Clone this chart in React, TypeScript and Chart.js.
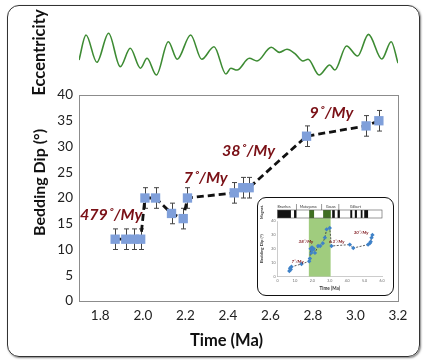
import React, { useEffect, useRef } from "react";
import { Chart, registerables } from "chart.js";
Chart.register(...registerables);

const FONT = "Lato, 'Open Sans', 'Liberation Sans', sans-serif";

// ---- Main panel data ----
const timeMa = [1.87, 1.92, 1.96, 1.99, 2.01, 2.06, 2.135, 2.19, 2.21, 2.43, 2.47, 2.5, 2.77, 3.05, 3.11];
const beddingDip = [12, 12, 12, 12, 20, 20, 17, 16, 20, 21, 22, 22, 32, 34, 35];
const dipError = [2, 2, 2, 2, 2, 2, 2, 2, 2, 2, 2, 2, 2, 2, 2];
const xTicks = [1.8, 2.0, 2.2, 2.4, 2.6, 2.8, 3.0, 3.2];
const yTicks = [0, 5, 10, 15, 20, 25, 30, 35, 40];

const rateText = ["479˚/My", "7˚/My", "38˚/My", "9˚/My"];
const rateTime = [1.851, 2.296, 2.497, 2.887];
const rateDip = [16.7, 23.9, 29.1, 36.6];

// ---- Eccentricity curve ----
const eccTime = [1.7, 1.733, 1.784, 1.839, 1.894, 1.941, 1.989, 2.02, 2.064, 2.12, 2.162, 2.225, 2.277, 2.335, 2.391, 2.414, 2.443, 2.501, 2.537, 2.604, 2.643, 2.678, 2.714, 2.753, 2.777, 2.829, 2.879, 2.903, 2.958, 3.01, 3.061, 3.124, 3.168, 3.2];
const eccValue = [0.0247, 0.0424, 0.0231, 0.0436, 0.02, 0.033, 0.0189, 0.0259, 0.0141, 0.0376, 0.0252, 0.0424, 0.0252, 0.0341, 0.0148, 0.0189, 0.0176, 0.0259, 0.024, 0.0337, 0.0301, 0.0323, 0.0294, 0.024, 0.0252, 0.0141, 0.0212, 0.0176, 0.0346, 0.0275, 0.0428, 0.0254, 0.0376, 0.0225];

// ---- Inset data ----
const insetTime = [0.68, 0.72, 0.76, 0.8, 1.38, 1.82, 1.86, 1.9, 1.94, 1.98, 2.02, 2.08, 2.15, 2.33, 2.45, 2.6, 2.72, 2.82, 3.0, 3.1, 4.15, 4.35, 5.2, 5.3, 5.35, 5.4, 5.45];
const insetDip = [4, 6, 5, 7, 9, 11, 13, 20, 17, 21, 19, 20, 17, 22, 22, 24, 28, 34, 35, 22, 23, 20.5, 23, 24, 25, 28, 30];
const insetXTicks = [0, 1, 2, 3, 4, 5, 6];
const insetYTicks = [0, 5, 10, 15, 20, 25, 30, 35, 40];
const insetRateText = ["7˚/My", "38˚/My", "6.3˚/My", "30˚/My"];
const insetRateTime = [1.15, 1.63, 3.4, 4.8];
const insetRateDip = [10.5, 25.4, 25.4, 31.4];
const greenBand = [1.8, 3.05];
const polarityStart = [0, 0.95, 1.82, 2.62, 3.14, 3.45, 4.18, 4.44, 4.78, 4.98];
const polarityEnd = [0.77, 1.09, 2.1, 3.06, 3.29, 3.58, 4.29, 4.56, 4.88, 5.2];
const polarityGreen = [false, false, true, true, false, false, false, false, false, false];
const chronNames = ["Brunhes", "Matuyama", "Gauss", "Gilbert"];
const chronCenter = [0.38, 1.76, 3.06, 4.48];
const chronBounds = [1.09, 2.53, 3.52];

const frameBox = {
  id: "frameBox",
  beforeDraw(chart: any) {
    const { ctx, chartArea: a } = chart;
    ctx.save();
    ctx.strokeStyle = "#8c8c8c";
    ctx.lineWidth = 1;
    ctx.strokeRect(Math.round(a.left) + 0.5, Math.round(a.top) + 0.5, Math.round(a.right - a.left), Math.round(a.bottom - a.top));
    ctx.restore();
  },
};

const errorBars = {
  id: "errorBars",
  beforeDatasetsDraw(chart: any) {
    const { ctx, scales } = chart;
    const x = scales.x, y = scales.y;
    ctx.save();
    ctx.strokeStyle = "#444";
    ctx.lineWidth = 1;
    timeMa.forEach((t, i) => {
      const px = Math.round(x.getPixelForValue(t)) + 0.5;
      const top = y.getPixelForValue(beddingDip[i] + dipError[i]);
      const bot = y.getPixelForValue(beddingDip[i] - dipError[i]);
      ctx.beginPath();
      ctx.moveTo(px, top);
      ctx.lineTo(px, bot);
      ctx.moveTo(px - 2.5, top);
      ctx.lineTo(px + 2.5, top);
      ctx.moveTo(px - 2.5, bot);
      ctx.lineTo(px + 2.5, bot);
      ctx.stroke();
    });
    ctx.restore();
  },
};

const rateLabels = {
  id: "rateLabels",
  afterDatasetsDraw(chart: any) {
    const { ctx, scales } = chart;
    ctx.save();
    ctx.fillStyle = "#7a1016";
    ctx.font = `italic bold 16px ${FONT}`;
    ctx.textAlign = "center";
    ctx.textBaseline = "middle";
    rateText.forEach((s, i) => {
      ctx.fillText(s, scales.x.getPixelForValue(rateTime[i]), scales.y.getPixelForValue(rateDip[i]));
    });
    ctx.restore();
  },
};

const insetDecor = {
  id: "insetDecor",
  beforeDatasetsDraw(chart: any) {
    const { ctx, chartArea: a, scales } = chart;
    const x = scales.x;
    const barTop = a.top - 11;
    const barBot = a.top - 3;
    ctx.save();
    ctx.fillStyle = "rgba(150,198,112,0.9)";
    const g0 = x.getPixelForValue(greenBand[0]);
    const g1 = x.getPixelForValue(greenBand[1]);
    ctx.fillRect(g0, barBot, g1 - g0, a.bottom - barBot);
    ctx.fillStyle = "#fff";
    ctx.fillRect(a.left, barTop, a.right - a.left, barBot - barTop);
    polarityStart.forEach((s, i) => {
      const p0 = x.getPixelForValue(s);
      const p1 = x.getPixelForValue(polarityEnd[i]);
      ctx.fillStyle = polarityGreen[i] ? "#3f6e22" : "#111";
      ctx.fillRect(p0, barTop, p1 - p0, barBot - barTop);
    });
    ctx.strokeStyle = "#555";
    ctx.lineWidth = 0.6;
    ctx.strokeRect(a.left, barTop, a.right - a.left, barBot - barTop);
    ctx.beginPath();
    chronBounds.forEach((b) => {
      const p = x.getPixelForValue(b);
      ctx.moveTo(p, barTop - 6);
      ctx.lineTo(p, barTop);
    });
    ctx.stroke();
    ctx.fillStyle = "#333";
    ctx.font = `3.6px ${FONT}`;
    ctx.textAlign = "center";
    ctx.textBaseline = "bottom";
    chronNames.forEach((n, i) => {
      ctx.fillText(n, x.getPixelForValue(chronCenter[i]), barTop - 1);
    });
    ctx.translate(a.left - 15.5, (barTop + barBot) / 2 - 2);
    ctx.rotate(-Math.PI / 2);
    ctx.font = `bold 3.8px ${FONT}`;
    ctx.textBaseline = "middle";
    ctx.fillText("Magnet.", 0, 0);
    ctx.restore();
  },
  afterDatasetsDraw(chart: any) {
    const { ctx, scales } = chart;
    ctx.save();
    ctx.fillStyle = "#7a1016";
    ctx.font = `italic bold 4.4px ${FONT}`;
    ctx.textAlign = "center";
    ctx.textBaseline = "middle";
    insetRateText.forEach((s, i) => {
      ctx.fillText(s, scales.x.getPixelForValue(insetRateTime[i]), scales.y.getPixelForValue(insetRateDip[i]));
    });
    ctx.restore();
  },
};

export default function App() {
  const mainRef = useRef<HTMLCanvasElement>(null);
  const eccRef = useRef<HTMLCanvasElement>(null);
  const insetRef = useRef<HTMLCanvasElement>(null);

  useEffect(() => {
    const main = new Chart(mainRef.current as HTMLCanvasElement, {
      type: "scatter",
      data: {
        datasets: [
          {
            data: timeMa.map((t, i) => ({ x: t, y: beddingDip[i] })),
            showLine: true,
            borderColor: "#111",
            borderWidth: 2.8,
            borderDash: [7, 4],
            pointStyle: "rect",
            pointRadius: 6.6,
            pointBackgroundColor: "#7f9fda",
            pointBorderColor: "#7f9fda",
            pointBorderWidth: 0,
          } as any,
        ],
      },
      options: {
        animation: false,
        responsive: false,
        layout: { padding: { left: 30, right: 29, top: 95, bottom: 10 } },
        plugins: { legend: { display: false }, tooltip: { enabled: false } },
        scales: {
          x: {
            type: "linear",
            min: 1.7,
            max: 3.2,
            afterBuildTicks: (s: any) => {
              s.ticks = xTicks.map((v) => ({ value: v }));
            },
            afterFit: (s: any) => {
              s.height = 50;
            },
            ticks: {
              autoSkip: false,
              maxRotation: 0,
              callback: (v: any) => Number(v).toFixed(1),
              font: { family: FONT, size: 13.5 },
              color: "#222",
              padding: 7,
            },
            grid: { display: false, drawTicks: false },
            border: { display: false },
            title: { display: true, text: "Time (Ma)      ", font: { family: FONT, size: 16.5, weight: "bold" }, color: "#111", padding: 0 },
          },
          y: {
            min: 0,
            max: 40,
            afterBuildTicks: (s: any) => {
              s.ticks = yTicks.map((v) => ({ value: v }));
            },
            afterFit: (s: any) => {
              s.width = 49;
            },
            ticks: { font: { family: FONT, size: 13.5 }, color: "#222", padding: 6 },
            grid: { display: false, drawTicks: false },
            border: { display: false },
            title: { display: true, text: "        Bedding Dip (°)", font: { family: FONT, size: 16, weight: "bold" }, color: "#111", padding: 0 },
          },
        },
      } as any,
      plugins: [frameBox, errorBars, rateLabels],
    });

    const ecc = new Chart(eccRef.current as HTMLCanvasElement, {
      type: "scatter",
      data: {
        datasets: [
          {
            data: eccTime.map((t, i) => ({ x: t, y: eccValue[i] })),
            showLine: true,
            borderColor: "#3d8b33",
            borderWidth: 1.6,
            pointRadius: 0,
            cubicInterpolationMode: "monotone",
          } as any,
        ],
      },
      options: {
        animation: false,
        responsive: false,
        layout: { padding: { left: 30, right: 29, top: 10, bottom: 1 } },
        plugins: { legend: { display: false }, tooltip: { enabled: false } },
        scales: {
          x: { type: "linear", min: 1.7, max: 3.2, display: false },
          y: {
            min: 0,
            max: 0.06,
            afterFit: (s: any) => {
              s.width = 49;
            },
            ticks: { display: false },
            grid: { display: false, drawTicks: false },
            border: { display: false },
            title: { display: true, text: "Eccentricity", font: { family: FONT, size: 16.5, weight: "bold" }, color: "#111", padding: 0 },
          },
        },
      } as any,
    });

    const inset = new Chart(insetRef.current as HTMLCanvasElement, {
      type: "scatter",
      data: {
        datasets: [
          {
            data: insetTime.map((t, i) => ({ x: t, y: insetDip[i] })),
            showLine: true,
            borderColor: "#333",
            borderWidth: 0.8,
            borderDash: [2, 1.5],
            pointStyle: "rectRot",
            pointRadius: 2.2,
            pointBackgroundColor: "#3f82c8",
            pointBorderColor: "#3f82c8",
            pointBorderWidth: 0,
          } as any,
        ],
      },
      options: {
        animation: false,
        responsive: false,
        layout: { padding: { left: 1, right: 10, top: 23, bottom: 2.5 } },
        plugins: { legend: { display: false }, tooltip: { enabled: false } },
        scales: {
          x: {
            type: "linear",
            min: 0,
            max: 6,
            afterBuildTicks: (s: any) => {
              s.ticks = insetXTicks.map((v) => ({ value: v }));
            },
            afterFit: (s: any) => {
              s.height = 15;
            },
            ticks: {
              autoSkip: false,
              maxRotation: 0,
              callback: (v: any) => (Number(v) === 0 ? "0" : Number(v).toFixed(1)),
              font: { family: FONT, size: 3.6 },
              color: "#666",
              padding: 2,
            },
            grid: { display: false, drawTicks: false },
            border: { display: true, color: "#aaa", width: 0.6 },
            title: { display: true, text: "Time (Ma)", font: { family: FONT, size: 4.6, weight: "bold" }, color: "#333", padding: 0 },
          },
          y: {
            min: 0,
            max: 40,
            afterBuildTicks: (s: any) => {
              s.ticks = insetYTicks.map((v) => ({ value: v }));
            },
            afterFit: (s: any) => {
              s.width = 18.5;
            },
            ticks: { font: { family: FONT, size: 3.6 }, color: "#666", padding: 2 },
            grid: { display: false, drawTicks: false },
            border: { display: true, color: "#aaa", width: 0.6 },
            title: { display: true, text: "Bedding Dip (°)", font: { family: FONT, size: 4.3, weight: "bold" }, color: "#333", padding: 0 },
          },
        },
      } as any,
      plugins: [insetDecor],
    });

    return () => {
      main.destroy();
      ecc.destroy();
      inset.destroy();
    };
  }, []);

  return (
    <div style={{ position: "fixed", left: 0, top: 0, width: 427, height: 361, background: "#fff", overflow: "hidden" }}>
      <div
        style={{
          position: "absolute",
          left: 7,
          top: 5,
          width: 413,
          height: 352,
          boxSizing: "border-box",
          border: "1.5px solid #333",
          borderRadius: 12,
          boxShadow: "1px 1px 2px rgba(0,0,0,0.5)",
        }}
      />
      <canvas ref={mainRef} width={427} height={361} style={{ position: "absolute", left: 0, top: 0, width: 427, height: 361 }} />
      <canvas ref={eccRef} width={427} height={96} style={{ position: "absolute", left: 0, top: 0, width: 427, height: 96 }} />
      <div
        style={{
          position: "absolute",
          left: 257,
          top: 197,
          width: 137,
          height: 99,
          boxSizing: "border-box",
          border: "1.5px solid #111",
          borderRadius: 9,
          background: "#fff",
          overflow: "hidden",
        }}
      >
        <canvas ref={insetRef} width={134} height={96} style={{ display: "block", width: 134, height: 96 }} />
      </div>
    </div>
  );
}
